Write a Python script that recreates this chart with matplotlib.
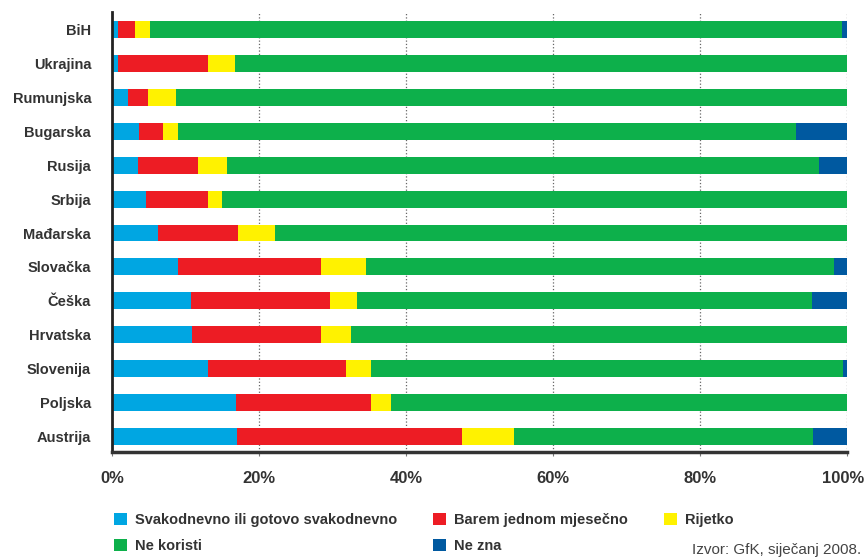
import numpy as np
import matplotlib
matplotlib.use('Agg')
import matplotlib.pyplot as plt
from matplotlib.transforms import ScaledTranslation

plt.rcParams['font.family'] = ['Liberation Sans', 'DejaVu Sans']

countries = ['BiH', 'Ukrajina', 'Rumunjska', 'Bugarska', 'Rusija', 'Srbija', 'Mađarska',
             'Slovačka', 'Češka', 'Hrvatska', 'Slovenija', 'Poljska', 'Austrija']

svakodnevno = [0.8, 0.8, 2.2, 3.7, 3.5, 4.6, 6.2, 9.0, 10.8, 10.9, 13.1, 16.9, 17.0]
mjesecno = [2.3, 12.2, 2.7, 3.3, 8.2, 8.4, 11.0, 19.5, 18.9, 17.5, 18.7, 18.3, 30.6]
rijetko = [2.1, 3.8, 3.8, 2.0, 4.0, 2.0, 5.0, 6.1, 3.7, 4.1, 3.5, 2.7, 7.1]
ne_koristi = [94.1, 83.2, 91.3, 84.0, 80.5, 85.0, 77.8, 63.7, 61.8, 67.5, 64.2, 62.1, 40.7]
ne_zna = [0.7, 0.0, 0.0, 7.0, 3.8, 0.0, 0.0, 1.7, 4.8, 0.0, 0.5, 0.0, 4.6]

series = [
    ('Svakodnevno ili gotovo svakodnevno', svakodnevno, '#00a6e2'),
    ('Barem jednom mjesečno', mjesecno, '#ed1c24'),
    ('Rijetko', rijetko, '#fff200'),
    ('Ne koristi', ne_koristi, '#0db04b'),
    ('Ne zna', ne_zna, '#0059a0'),
]

fig = plt.figure(figsize=(8.64, 5.59), dpi=100)
ax = fig.add_axes([0.1296, 0.1914, 0.8507, 0.7871])

y = np.arange(len(countries))
left = np.zeros(len(countries))
handles = {}
for name, vals, col in series:
    vals = np.array(vals)
    b = ax.barh(y, vals, left=left, height=0.5, color=col, edgecolor='none', label=name)
    handles[name] = b
    left += vals

ax.set_xlim(0, 100)
ax.set_ylim(12.47, -0.53)
ax.set_yticks(y)
ax.set_yticklabels(countries, fontsize=10.5, fontweight='bold', color='#333333')
ax.set_xticks([0, 20, 40, 60, 80, 100])
ax.set_xticklabels(['0%', '20%', '40%', '60%', '80%', '100%'], fontsize=12,
                   fontweight='bold', color='#333333')
ax.tick_params(axis='y', length=0, pad=15)
ax.tick_params(axis='x', length=3, color='#777777', pad=11)

# keep "100%" inside the figure edge
last = ax.get_xticklabels()[-1]
last.set_transform(last.get_transform() + ScaledTranslation(-4 / 100, 0, fig.dpi_scale_trans))

ax.set_axisbelow(True)
ax.grid(axis='x', linestyle=':', color='#666666', linewidth=0.9)

for s in ['top', 'right']:
    ax.spines[s].set_visible(False)
ax.spines['left'].set_linewidth(2)
ax.spines['left'].set_color('#222222')
ax.spines['bottom'].set_linewidth(2.5)
ax.spines['bottom'].set_color('#333333')

order = ['Svakodnevno ili gotovo svakodnevno', 'Ne koristi', 'Barem jednom mjesečno',
         'Ne zna', 'Rijetko']
leg = fig.legend([handles[k] for k in order], order, ncol=3, loc='upper left',
                 bbox_to_anchor=(0.117, 0.106), frameon=False, fontsize=10.5,
                 handlelength=0.9, handleheight=0.9, handletextpad=0.55,
                 columnspacing=2.45, labelspacing=0.85)
for t in leg.get_texts():
    t.set_fontweight('bold')
    t.set_color('#333333')

fig.text(0.997, 0.003, 'Izvor: GfK, siječanj 2008.', ha='right', va='bottom',
         fontsize=11, color='#444444')

fig.savefig('out.png', dpi=100)
